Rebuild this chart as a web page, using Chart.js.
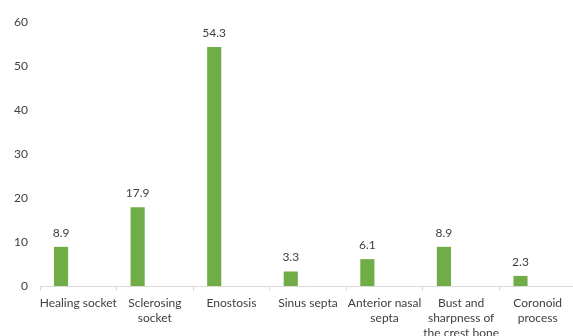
<!DOCTYPE html>
<html>
<head>
<meta charset="utf-8">
<script src="https://cdn.jsdelivr.net/npm/chart.js@4"></script>
<style>
  html, body { margin: 0; padding: 0; background: #fff; overflow: hidden; }
  #wrap { width: 576px; height: 336px; }
</style>
</head>
<body>
<div id="wrap"><canvas id="barChart"></canvas></div>
<script>
// categories and values
const categories = [
    ['Healing socket'],
    ['Sclerosing', 'socket'],
    ['Enostosis'],
    ['Sinus septa'],
    ['Anterior nasal', 'septa'],
    ['Bust and', 'sharpness of', 'the crest bone'],
    ['Coronoid', 'process']
];
const percentValues = [8.9, 17.9, 54.3, 3.3, 6.1, 8.9, 2.3];
const emptySeries = [null, null, null, null, null, null, null]; // second (empty) series of the cluster
const yTicks = [0, 10, 20, 30, 40, 50, 60];

const fontFamily = 'Lato, "Open Sans", sans-serif';

// simple value labels above each bar
const valueLabels = {
    id: 'valueLabels',
    afterDatasetsDraw(chart) {
        const ctx = chart.ctx;
        const meta = chart.getDatasetMeta(0);
        ctx.save();
        ctx.font = '12px ' + fontFamily;
        ctx.fillStyle = '#404040';
        ctx.textAlign = 'center';
        ctx.textBaseline = 'middle';
        meta.data.forEach((bar, i) => {
            ctx.fillText(percentValues[i].toFixed(1), bar.x, bar.y - 14);
        });
        ctx.restore();
    }
};

function initChart() {
    const ctx = document.getElementById('barChart').getContext('2d');
    new Chart(ctx, {
        type: 'bar',
        data: {
            labels: categories,
            datasets: [
                {
                    label: 'Percent',
                    data: percentValues,
                    backgroundColor: '#70ad47',
                    borderWidth: 0,
                    categoryPercentage: 0.9,
                    barPercentage: 0.41
                },
                {
                    label: 'Empty',
                    data: emptySeries,
                    backgroundColor: 'transparent',
                    categoryPercentage: 0.9,
                    barPercentage: 0.41
                }
            ]
        },
        options: {
            responsive: true,
            maintainAspectRatio: false,
            animation: false,
            layout: { padding: { top: 22, left: 0, right: 0, bottom: 0 } },
            scales: {
                x: {
                    afterFit(scale) { scale.height = 50; },
                    grid: {
                        offset: true,
                        drawOnChartArea: false,
                        drawTicks: true,
                        tickLength: 5,
                        color: '#d9d9d9'
                    },
                    border: { color: '#d9d9d9', width: 1 },
                    ticks: {
                        color: '#404040',
                        font: { family: fontFamily, size: 12, lineHeight: 1.25 },
                        padding: 5,
                        maxRotation: 0,
                        autoSkip: false
                    }
                },
                y: {
                    min: 0,
                    max: 60,
                    afterFit(scale) { scale.width = 40; },
                    afterBuildTicks(scale) {
                        scale.ticks = yTicks.map(v => ({ value: v }));
                    },
                    grid: { display: false, drawTicks: false },
                    border: { display: false },
                    ticks: {
                        color: '#404040',
                        font: { family: fontFamily, size: 12 },
                        padding: 12
                    }
                }
            },
            plugins: {
                legend: { display: false },
                tooltip: { enabled: false }
            }
        },
        plugins: [valueLabels]
    });
}

document.addEventListener('DOMContentLoaded', () => {
    initChart();
});
</script>
</body>
</html>
